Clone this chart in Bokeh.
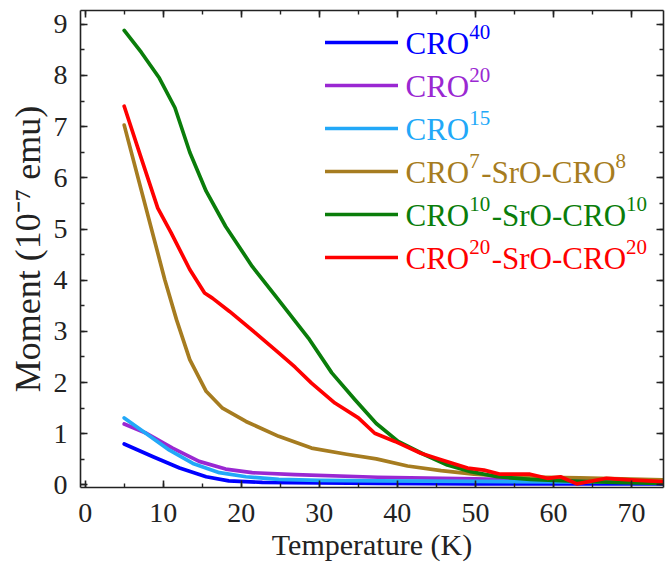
from bokeh.plotting import figure
from bokeh.models import (LinearAxis, SingleIntervalTicker, Legend, LegendItem,
                          Label, CustomLabelingPolicy)
from bokeh.embed import file_html
from bokeh.resources import INLINE

# ---- data ----
# legend labels as (text, is_superscript) segments
label_parts = [
    [("CRO", False), ("40", True)],
    [("CRO", False), ("20", True)],
    [("CRO", False), ("15", True)],
    [("CRO", False), ("7", True), ("-SrO-CRO", False), ("8", True)],
    [("CRO", False), ("10", True), ("-SrO-CRO", False), ("10", True)],
    [("CRO", False), ("20", True), ("-SrO-CRO", False), ("20", True)],
]
colors = ["#0000FF", "#9A28D2", "#22A8F8", "#A67C20", "#0A7D0A", "#FF0000"]

t_cro40 = [5, 8.7, 12.1, 15.5, 18.4, 22.7, 30, 37.5, 50, 74]
m_cro40 = [0.80, 0.55, 0.33, 0.16, 0.08, 0.05, 0.04, 0.03, 0.02, 0.02]

t_cro20 = [5, 7.85, 11.2, 14.6, 18.0, 21.4, 26.9, 37.5, 50, 60, 74]
m_cro20 = [1.19, 1.01, 0.72, 0.46, 0.31, 0.24, 0.20, 0.15, 0.12, 0.09, 0.06]

t_cro15 = [5, 7.85, 10.8, 13.8, 17.2, 20.6, 24.8, 30, 37.5, 50, 74]
m_cro15 = [1.31, 1.00, 0.68, 0.42, 0.24, 0.16, 0.11, 0.09, 0.08, 0.07, 0.05]

t_sl7 = [5, 10.2, 11.7, 13.4, 15.5, 17.6, 20.6, 24.8, 29.0, 33.5, 37.3,
         41.3, 45.6, 49.8, 54.9, 63.4, 74]
m_sl7 = [7.03, 4.01, 3.23, 2.45, 1.83, 1.50, 1.24, 0.95, 0.72, 0.60, 0.51,
         0.37, 0.28, 0.21, 0.16, 0.14, 0.10]

t_sl10 = [5, 7.2, 9.5, 11.5, 13.4, 15.5, 18, 21.4, 24.6, 28.6, 31.6, 34.6,
          37.3, 40.1, 43.5, 46.4, 49.4, 52.8, 57, 63.4, 68, 74]
m_sl10 = [8.88, 8.45, 7.95, 7.37, 6.50, 5.74, 5.05, 4.27, 3.65, 2.87, 2.19,
          1.66, 1.20, 0.85, 0.59, 0.39, 0.26, 0.16, 0.11, 0.07, 0.05, 0.03]

t_sl20 = [5, 7.0, 9.3, 11.0, 13.4, 15.3, 16.3, 18.5, 21.8, 24.8, 26.9, 29.0,
          32.0, 35.0, 37.1, 39.7, 43.0, 45.6, 49.0, 51.1, 53.2, 57.0, 59.2,
          60.9, 63.0, 66.8, 69.8, 74]
m_sl20 = [7.40, 6.47, 5.41, 4.93, 4.21, 3.75, 3.65, 3.39, 2.97, 2.58, 2.30,
          1.99, 1.60, 1.31, 1.01, 0.85, 0.62, 0.49, 0.33, 0.29, 0.21, 0.21,
          0.13, 0.16, 0.02, 0.13, 0.10, 0.065]

series_t = [t_cro40, t_cro20, t_cro15, t_sl7, t_sl10, t_sl20]
series_m = [m_cro40, m_cro20, m_cro15, m_sl7, m_sl10, m_sl20]

x_title = "Temperature (K)"
y_title = "Moment (10⁻⁷ emu)"

FONT = "Liberation Serif"
INK = "#222222"

FRAME_H = 477
p = figure(width=667, height=571, x_range=(-0.6, 74.1), y_range=(-0.05, 9.27),
           output_backend="svg", toolbar_location=None,
           min_border_left=80, min_border_right=0, min_border_top=10,
           min_border_bottom=84)
p.outline_line_color = None
p.grid.visible = False
p.background_fill_color = "white"

renderers = []
for t, m, c in zip(series_t, series_m, colors):
    r = p.line(t, m, line_color=c, line_width=3.7, line_join="round", line_cap="round")
    renderers.append(r)

no_labels = CustomLabelingPolicy(code="""
const all = Array.from(indices)
for (const i of all) { indices.unset(i) }
return indices
""")

def style_axis(ax, show_labels):
    ax.axis_line_width = 1.6
    ax.axis_line_color = INK
    ax.major_tick_in = 7
    ax.major_tick_out = 0
    ax.minor_tick_in = 4
    ax.minor_tick_out = 0
    ax.major_tick_line_width = 1.6
    ax.minor_tick_line_width = 1.4
    ax.major_tick_line_color = INK
    ax.minor_tick_line_color = INK
    if show_labels:
        ax.major_label_text_font = FONT
        ax.major_label_text_font_size = "28px"
        ax.major_label_text_color = INK
        ax.axis_label_text_font = FONT
        ax.axis_label_text_font_style = "normal"
        ax.axis_label_text_color = INK
    else:
        ax.major_label_policy = no_labels
        ax.major_label_text_font_size = "1px"
        ax.major_label_standoff = 0

p.xaxis.ticker = SingleIntervalTicker(interval=10, num_minor_ticks=2)
p.yaxis.ticker = SingleIntervalTicker(interval=1, num_minor_ticks=2)
style_axis(p.xaxis[0], True)
style_axis(p.yaxis[0], True)
p.xaxis.axis_label = x_title
p.yaxis.axis_label = y_title
p.xaxis.axis_label_text_font_size = "30px"
p.yaxis.axis_label_text_font_size = "36px"
p.xaxis.major_label_standoff = 16
p.yaxis.major_label_standoff = 13
p.xaxis.axis_label_standoff = 3
p.yaxis.axis_label_standoff = 3

top = LinearAxis(ticker=SingleIntervalTicker(interval=10, num_minor_ticks=2))
style_axis(top, False)
p.add_layout(top, "above")
right = LinearAxis(ticker=SingleIntervalTicker(interval=1, num_minor_ticks=2))
style_axis(right, False)
p.add_layout(right, "right")

# ---- legend: line samples through a Legend, coloured texts as Labels ----
ROW_H = 36
ROW_SPACING = 7
ROW_GAP = ROW_H + ROW_SPACING
FIRST_CENTER = 32          # px below frame top
legend = Legend(items=[LegendItem(label=" ", renderers=[r]) for r in renderers],
                location=(245, FRAME_H - (FIRST_CENTER + 5 * ROW_GAP) - ROW_H // 2),
                orientation="vertical", glyph_width=73, glyph_height=ROW_H,
                label_height=ROW_H, label_width=1, label_standoff=0,
                label_text_font_size="8px", spacing=ROW_SPACING,
                padding=0, margin=0, border_line_color=None,
                background_fill_alpha=0)
p.add_layout(legend, "center")

NORMAL_PX = 31
SUP_PX = 21
# Times/Liberation Serif advance widths (em)
ADV = {"C": 0.667, "R": 0.667, "O": 0.722, "S": 0.556, "r": 0.333, "-": 0.333,
       "0": 0.5, "1": 0.5, "2": 0.5, "4": 0.5, "5": 0.5, "7": 0.5, "8": 0.5}
TEXT_X = 325          # px from frame left
for i, (parts, c) in enumerate(zip(label_parts, colors)):
    center = FIRST_CENTER + i * ROW_GAP
    base_y = FRAME_H - (center + 1)
    x = TEXT_X
    for txt, sup in parts:
        size = SUP_PX if sup else NORMAL_PX
        y = base_y + (12 if sup else 0)
        p.add_layout(Label(x=x, y=y, x_units="screen", y_units="screen",
                           text=txt, text_font=FONT, text_font_size=f"{size}px",
                           text_color=c, text_baseline="alphabetic",
                           text_align="left"))
        x += sum(ADV.get(ch, 0.5) for ch in txt) * size + (1.5 if sup else 0)

open("out.html", "w").write(file_html(p, INLINE))
